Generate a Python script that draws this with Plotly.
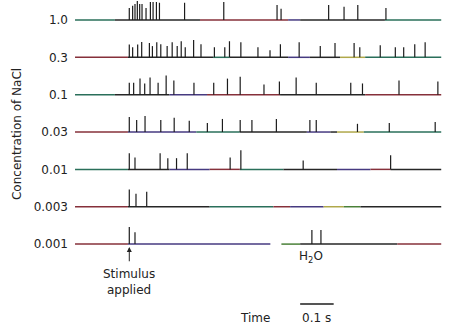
import plotly.graph_objects as go

# ---- data -------------------------------------------------------------
concentrations = ["1.0", "0.3", "0.1", "0.03", "0.01", "0.003", "0.001"]

# spike times (s, stimulus at 0) and relative spike amplitudes per concentration
t_1_0 = [0, 0.010, 0.017, 0.024, 0.031, 0.038, 0.050, 0.063, 0.071, 0.081, 0.090,
         0.165, 0.282, 0.441, 0.453, 0.595, 0.641, 0.682, 0.766]
a_1_0 = [0.32, 0.38, 0.43, 0.51, 0.43, 0.43, 0.32, 0.48, 0.48, 0.48, 0.46,
         0.46, 0.48, 0.40, 0.30, 0.40, 0.35, 0.40, 0.32]

t_0_3 = [0, 0.010, 0.025, 0.037, 0.060, 0.069, 0.082, 0.094, 0.113, 0.128, 0.143,
         0.155, 0.167, 0.192, 0.214, 0.254, 0.285, 0.299, 0.333, 0.384, 0.420,
         0.451, 0.507, 0.570, 0.614, 0.671, 0.688, 0.749, 0.794, 0.819, 0.852, 0.883]
a_0_3 = [0.34, 0.27, 0.34, 0.41, 0.38, 0.30, 0.40, 0.35, 0.30, 0.40, 0.30,
         0.43, 0.27, 0.46, 0.35, 0.27, 0.27, 0.43, 0.40, 0.27, 0.19,
         0.35, 0.40, 0.30, 0.38, 0.38, 0.27, 0.32, 0.27, 0.27, 0.35, 0.40]

t_0_1 = [0, 0.013, 0.032, 0.046, 0.062, 0.086, 0.110, 0.133, 0.193, 0.252, 0.293,
         0.331, 0.402, 0.448, 0.498, 0.558, 0.661, 0.696, 0.805, 0.921]
a_0_1 = [0.32, 0.32, 0.43, 0.30, 0.46, 0.32, 0.51, 0.38, 0.32, 0.32, 0.43,
         0.48, 0.27, 0.35, 0.46, 0.32, 0.32, 0.30, 0.38, 0.35]

t_0_03 = [0, 0.022, 0.047, 0.094, 0.134, 0.179, 0.233, 0.278, 0.331, 0.366,
          0.439, 0.539, 0.558, 0.681, 0.776, 0.913]
a_0_03 = [0.40, 0.32, 0.43, 0.32, 0.38, 0.30, 0.24, 0.35, 0.32, 0.32,
          0.35, 0.32, 0.32, 0.22, 0.24, 0.27]

t_0_01 = [0, 0.017, 0.092, 0.115, 0.141, 0.173, 0.301, 0.333, 0.519, 0.780]
a_0_01 = [0.43, 0.32, 0.43, 0.30, 0.30, 0.43, 0.32, 0.51, 0.24, 0.38]

t_0_003 = [0, 0.020, 0.052]
a_0_003 = [0.46, 0.35, 0.40]

t_0_001 = [0, 0.017, 0.545, 0.572]
a_0_001 = [0.46, 0.32, 0.38, 0.38]

spike_times = [t_1_0, t_0_3, t_0_1, t_0_03, t_0_01, t_0_003, t_0_001]
spike_amps = [a_1_0, a_0_3, a_0_1, a_0_03, a_0_01, a_0_003, a_0_001]

record_start, record_end = -0.162, 0.931
water_gap = (0.421, 0.454)      # break in the 0.001 trace before water is applied
water_label_time = 0.5415
scale_bar_start, scale_bar_len = 0.51, 0.1

# ---- style (tinted baselines of the scanned traces) ---------------------
TEAL, RED, PURP, YEL, DARK, GRN = "#2a6f5a", "#86303a", "#463a80", "#b0a84a", "#262626", "#4a8038"
baseline_colors = [
    [(-0.162, -0.043, TEAL), (-0.043, 0.211, DARK), (0.211, 0.474, RED), (0.474, 0.510, PURP),
     (0.510, 0.763, DARK), (0.763, 0.931, TEAL)],
    [(-0.162, -0.004, RED), (-0.004, 0.250, DARK), (0.250, 0.300, TEAL), (0.300, 0.474, DARK),
     (0.474, 0.539, PURP), (0.539, 0.629, DARK), (0.629, 0.704, YEL), (0.704, 0.931, TEAL)],
    [(-0.162, -0.043, TEAL), (-0.043, 0.120, DARK), (0.120, 0.232, PURP), (0.232, 0.450, RED),
     (0.450, 0.704, DARK), (0.704, 0.931, RED)],
    [(-0.162, -0.004, RED), (-0.004, 0.200, PURP), (0.200, 0.330, TEAL), (0.330, 0.530, DARK),
     (0.530, 0.600, PURP), (0.600, 0.620, DARK), (0.620, 0.700, YEL), (0.700, 0.931, TEAL)],
    [(-0.162, -0.004, TEAL), (-0.004, 0.120, DARK), (0.120, 0.240, PURP), (0.240, 0.330, RED),
     (0.330, 0.460, TEAL), (0.460, 0.620, DARK), (0.620, 0.720, PURP), (0.720, 0.780, RED),
     (0.780, 0.931, DARK)],
    [(-0.162, -0.004, RED), (-0.004, 0.240, DARK), (0.240, 0.430, TEAL), (0.430, 0.480, RED),
     (0.480, 0.580, PURP), (0.580, 0.640, YEL), (0.640, 0.690, GRN), (0.690, 0.931, DARK)],
    [(-0.162, -0.004, RED), (-0.004, 0.421, PURP), (0.454, 0.510, GRN), (0.510, 0.800, DARK),
     (0.800, 0.931, RED)],
]

FONT = "DejaVu Sans"
TXT = "#222222"
n = len(concentrations)
row_y = [n - 1 - i for i in range(n)]  # 1.0 at top

fig = go.Figure()

for i in range(n):
    y0 = row_y[i]
    for (a, b, c) in baseline_colors[i]:
        fig.add_trace(go.Scatter(x=[a, b], y=[y0, y0], mode="lines",
                                 line=dict(color=c, width=1.5), hoverinfo="skip",
                                 showlegend=False))
    xs, ys = [], []
    for t, amp in zip(spike_times[i], spike_amps[i]):
        xs += [t, t, None]
        ys += [y0, y0 + amp, None]
    fig.add_trace(go.Scatter(x=xs, y=ys, mode="lines",
                             line=dict(color="#1c1c1c", width=1.2),
                             hoverinfo="skip", showlegend=False))

# scale bar
fig.add_shape(type="line", xref="x", yref="y",
              x0=scale_bar_start, x1=scale_bar_start + scale_bar_len,
              y0=-1.603, y1=-1.603, line=dict(color="#1c1c1c", width=1.5))

ann = [
    dict(text="Concentration of NaCl", xref="paper", x=0, xshift=-55, yref="y", y=2.947,
         textangle=-90, showarrow=False, xanchor="center", yanchor="middle",
         font=dict(family=FONT, size=12, color=TXT)),
    dict(text="Stimulus<br>applied", xref="x", x=0, yref="y", y=-1.014, showarrow=False,
         xanchor="center", yanchor="middle", font=dict(family=FONT, size=12, color=TXT)),
    dict(text="", xref="x", x=0, yref="y", y=-0.078, axref="x", ax=0, ayref="y", ay=-0.50,
         showarrow=True, arrowhead=2, arrowsize=1, arrowwidth=1, arrowcolor=TXT),
    dict(text="H<sub>2</sub>O", xref="x", x=water_label_time, yref="y", y=-0.332,
         showarrow=False, xanchor="center", yanchor="middle",
         font=dict(family=FONT, size=12, color=TXT)),
    dict(text="Time", xref="x", x=0.376, yref="y", y=-1.978, showarrow=False,
         xanchor="center", yanchor="middle", font=dict(family=FONT, size=12, color=TXT)),
    dict(text="0.1 s", xref="x", x=scale_bar_start + scale_bar_len / 2, yref="y", y=-1.978,
         showarrow=False, xanchor="center", yanchor="middle",
         font=dict(family=FONT, size=12, color=TXT)),
]

fig.update_layout(
    width=464, height=327,
    margin=dict(l=72, r=0, t=0, b=0),
    paper_bgcolor="white", plot_bgcolor="white",
    annotations=ann,
    xaxis=dict(range=[-0.171, 0.999], visible=False, fixedrange=True),
    yaxis=dict(range=[-2.219, 6.534], tickmode="array", tickvals=row_y,
               ticktext=concentrations, showgrid=False, zeroline=False,
               showline=False, ticks="", ticklabelstandoff=3,
               tickfont=dict(family=FONT, size=12, color=TXT),
               fixedrange=True),
)

fig.write_html("out.html")
